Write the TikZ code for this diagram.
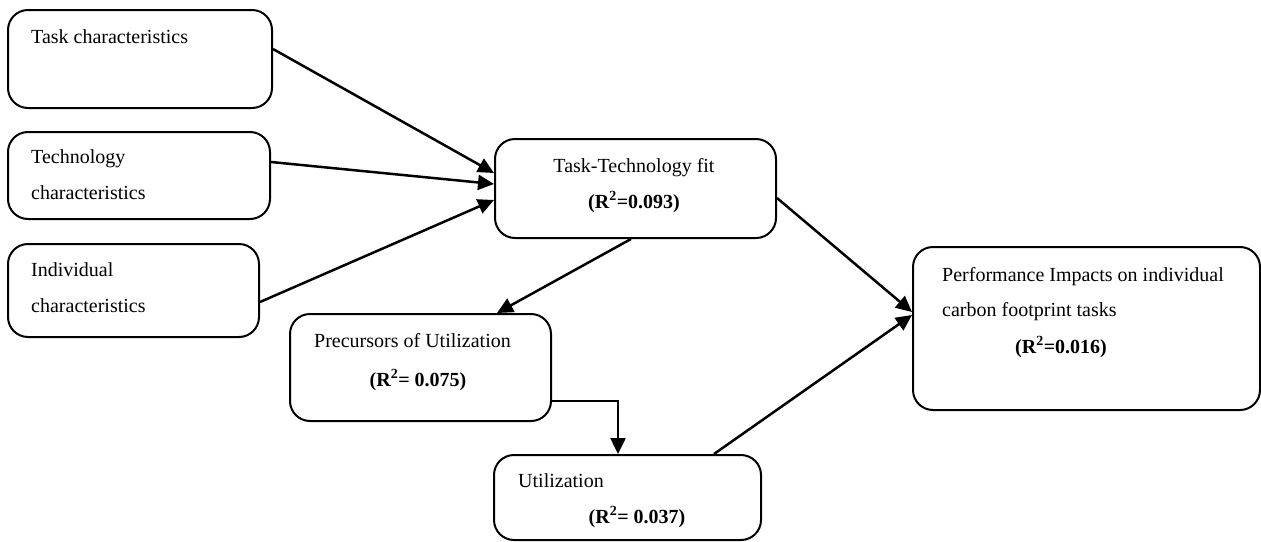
\documentclass[tikz,border=0pt]{standalone}
\usepackage{fontspec}
\setmainfont{Liberation Serif}
\usetikzlibrary{arrows.meta}
\tikzset{
  box/.style={draw=black, line width=2pt, rounded corners=20pt, inner sep=0pt, anchor=north west},
  lbl/.style={anchor=base west, inner sep=0pt, font=\fontsize{20}{24}\selectfont},
  rsq/.style={anchor=base, inner sep=0pt, font=\fontsize{20}{24}\selectfont\bfseries},
  arr/.style={line width=2.5pt, -{Triangle[length=16pt,width=15pt]}}
}
\begin{document}
\begin{tikzpicture}[x=1pt,y=-1pt]
\useasboundingbox (0,0) rectangle (1261,541);
% boxes
\node[box, minimum width=264pt, minimum height=98pt] (task) at (7,9) {};
\node[box, minimum width=262pt, minimum height=87pt] (tech) at (7,131) {};
\node[box, minimum width=251pt, minimum height=93pt] (indiv) at (7,243) {};
\node[box, minimum width=281pt, minimum height=99pt] (ttf) at (494,138) {};
\node[box, minimum width=261pt, minimum height=107pt] (prec) at (289,313) {};
\node[box, minimum width=267pt, minimum height=85pt] (util) at (493,454) {};
\node[box, minimum width=347pt, minimum height=163pt] (perf) at (912,246) {};
% texts
\node[lbl] (t1) at (31,43) {Task characteristics};
\node[lbl] (t2a) at (31,163) {Technology};
\node[lbl] (t2b) at (31,199) {characteristics};
\node[lbl] (t3a) at (31,276) {Individual};
\node[lbl] (t3b) at (31,312) {characteristics};
\node[anchor=base, inner sep=0pt, font=\fontsize{20}{24}\selectfont] (t4) at (634,172) {Task-Technology fit};
\node[rsq] (r4) at (634,208) {(R\textsuperscript{2}=0.093)};
\node[lbl] (t5) at (314,347) {Precursors of Utilization};
\node[rsq] (r5) at (418,386) {(R\textsuperscript{2}= 0.075)};
\node[lbl] (t6) at (518,487) {Utilization};
\node[rsq] (r6) at (637,523) {(R\textsuperscript{2}= 0.037)};
\node[lbl] (t7a) at (942,281) {Performance Impacts on individual};
\node[lbl] (t7b) at (942,316) {carbon footprint tasks};
\node[rsq] (r7) at (1061,353) {(R\textsuperscript{2}=0.016)};
% arrows
\draw[arr] ([yshift=10pt]task.east) -- ([yshift=15.5pt]ttf.west);
\draw[arr] ([yshift=13.5pt]tech.east) -- ([yshift=4.5pt]ttf.west);
\draw[arr] ([yshift=-11.5pt]indiv.east) -- ([yshift=-11.5pt]ttf.west);
\draw[arr] ([xshift=-4.5pt]ttf.south) -- ([xshift=76.5pt]prec.north);
\draw[arr] ([yshift=-9.5pt]ttf.east) -- ([yshift=16.5pt]perf.west);
\draw[arr] ([xshift=86.5pt]util.north) -- ([yshift=13.5pt]perf.west);
\draw[arr] ([yshift=-33.5pt]prec.east) -| ([xshift=-9.5pt]util.north);
\end{tikzpicture}
\end{document}
